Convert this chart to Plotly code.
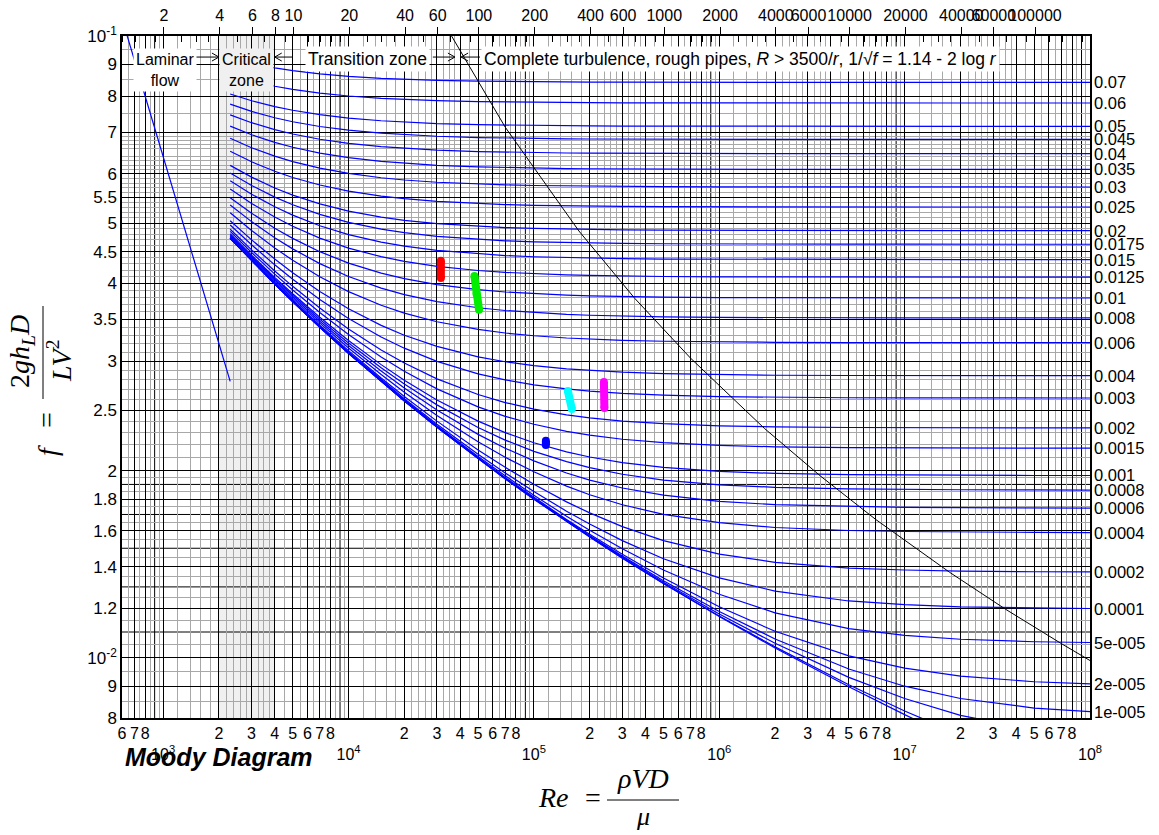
import math
import plotly.graph_objects as go

# ---------------- data ----------------
# Reynolds numbers at which each curve was read
re_grid = [2300, 3000, 4000, 5000, 7000, 1e4, 1.5e4, 2e4, 3e4, 5e4, 7e4, 1e5, 1.5e5, 2e5,
           3e5, 5e5, 1e6, 2e6, 5e6, 1e7, 2e7, 5e7, 1e8]

# friction factor x 1000 along each relative-roughness curve
f_r0p07 = [92.10, 90.34, 88.86, 87.96, 86.91, 86.11, 85.48, 85.16, 84.84, 84.59, 84.48, 84.39, 84.33, 84.30, 84.27, 84.24, 84.22, 84.21, 84.20, 84.20, 84.20, 84.20, 84.20]
f_r0p06 = [86.45, 84.59, 83.02, 82.06, 80.93, 80.08, 79.40, 79.06, 78.72, 78.44, 78.32, 78.23, 78.16, 78.13, 78.09, 78.06, 78.04, 78.03, 78.02, 78.02, 78.02, 78.02, 78.02]
f_r0p05 = [80.66, 78.67, 76.99, 75.95, 74.73, 73.80, 73.06, 72.69, 72.31, 72.01, 71.88, 71.78, 71.70, 71.67, 71.63, 71.60, 71.57, 71.56, 71.56, 71.55, 71.55, 71.55, 71.55]
f_r0p045 = [77.70, 75.64, 73.88, 72.80, 71.52, 70.55, 69.77, 69.38, 68.98, 68.66, 68.52, 68.42, 68.33, 68.29, 68.25, 68.22, 68.20, 68.18, 68.18, 68.17, 68.17, 68.17, 68.17]
f_r0p04 = [74.68, 72.54, 70.70, 69.57, 68.23, 67.19, 66.37, 65.95, 65.53, 65.19, 65.04, 64.93, 64.84, 64.80, 64.76, 64.72, 64.70, 64.68, 64.68, 64.67, 64.67, 64.67, 64.67]
f_r0p035 = [71.61, 69.37, 67.44, 66.24, 64.82, 63.72, 62.84, 62.40, 61.94, 61.58, 61.42, 61.30, 61.21, 61.16, 61.11, 61.07, 61.05, 61.03, 61.02, 61.02, 61.02, 61.02, 61.02]
f_r0p03 = [68.47, 66.12, 64.08, 62.80, 61.29, 60.11, 59.16, 58.67, 58.18, 57.78, 57.61, 57.48, 57.38, 57.33, 57.28, 57.24, 57.20, 57.19, 57.18, 57.18, 57.18, 57.17, 57.17]
f_r0p025 = [65.25, 62.76, 60.59, 59.22, 57.59, 56.31, 55.27, 54.74, 54.20, 53.75, 53.56, 53.42, 53.31, 53.25, 53.19, 53.15, 53.11, 53.10, 53.09, 53.08, 53.08, 53.08, 53.08]
f_r0p02 = [61.93, 59.29, 56.96, 55.48, 53.69, 52.27, 51.12, 50.52, 49.91, 49.41, 49.19, 49.03, 48.90, 48.83, 48.77, 48.72, 48.68, 48.66, 48.65, 48.64, 48.64, 48.64, 48.64]
f_r0p0175 = [60.23, 57.50, 55.07, 53.53, 51.65, 50.15, 48.92, 48.28, 47.62, 47.08, 46.84, 46.66, 46.52, 46.45, 46.38, 46.33, 46.28, 46.26, 46.25, 46.25, 46.24, 46.24, 46.24]
f_r0p015 = [58.50, 55.67, 53.14, 51.51, 49.52, 47.93, 46.60, 45.91, 45.20, 44.61, 44.35, 44.15, 44.00, 43.92, 43.85, 43.78, 43.74, 43.71, 43.70, 43.69, 43.69, 43.69, 43.69]
f_r0p0125 = [56.74, 53.79, 51.14, 49.43, 47.31, 45.59, 44.16, 43.40, 42.61, 41.96, 41.67, 41.46, 41.28, 41.20, 41.11, 41.04, 40.99, 40.96, 40.95, 40.94, 40.94, 40.94, 40.94]
f_r0p01 = [54.94, 51.87, 49.08, 47.26, 44.99, 43.13, 41.55, 40.71, 39.82, 39.08, 38.75, 38.50, 38.31, 38.21, 38.11, 38.03, 37.96, 37.93, 37.92, 37.91, 37.91, 37.90, 37.90]
f_r0p008 = [53.47, 50.29, 47.38, 45.46, 43.04, 41.03, 39.31, 38.37, 37.39, 36.55, 36.18, 35.89, 35.66, 35.55, 35.43, 35.34, 35.27, 35.23, 35.21, 35.20, 35.20, 35.20, 35.20]
f_r0p006 = [51.97, 48.67, 45.62, 43.58, 41.00, 38.80, 36.89, 35.84, 34.71, 33.73, 33.29, 32.95, 32.68, 32.54, 32.40, 32.29, 32.20, 32.16, 32.13, 32.12, 32.12, 32.12, 32.12]
f_r0p004 = [50.44, 47.00, 43.79, 41.62, 38.83, 36.41, 34.24, 33.02, 31.68, 30.48, 29.93, 29.50, 29.15, 28.97, 28.79, 28.64, 28.53, 28.47, 28.44, 28.43, 28.42, 28.42, 28.42]
f_r0p003 = [49.67, 46.15, 42.85, 40.61, 37.69, 35.13, 32.80, 31.47, 29.97, 28.62, 27.98, 27.47, 27.06, 26.84, 26.62, 26.44, 26.30, 26.23, 26.19, 26.18, 26.17, 26.17, 26.17]
f_r0p002 = [48.88, 45.29, 41.89, 39.57, 36.51, 33.79, 31.27, 29.79, 28.09, 26.51, 25.73, 25.11, 24.58, 24.31, 24.02, 23.79, 23.61, 23.51, 23.46, 23.44, 23.43, 23.42, 23.42]
f_r0p0015 = [48.49, 44.85, 41.40, 39.03, 35.91, 33.10, 30.46, 28.89, 27.07, 25.32, 24.45, 23.74, 23.13, 22.80, 22.46, 22.18, 21.96, 21.84, 21.77, 21.75, 21.74, 21.73, 21.73]
f_r0p001 = [48.09, 44.41, 40.91, 38.50, 35.29, 32.38, 29.61, 27.95, 25.97, 24.02, 23.02, 22.17, 21.44, 21.03, 20.60, 20.24, 19.94, 19.79, 19.70, 19.67, 19.65, 19.64, 19.64]
f_r0p0008 = [47.93, 44.23, 40.71, 38.28, 35.04, 32.09, 29.26, 27.55, 25.51, 23.46, 22.39, 21.48, 20.67, 20.22, 19.73, 19.31, 18.97, 18.80, 18.69, 18.65, 18.63, 18.62, 18.61]
f_r0p0006 = [47.77, 44.06, 40.51, 38.06, 34.78, 31.79, 28.91, 27.15, 25.03, 22.87, 21.73, 20.73, 19.82, 19.31, 18.75, 18.26, 17.85, 17.63, 17.50, 17.45, 17.43, 17.41, 17.41]
f_r0p0004 = [47.61, 43.88, 40.31, 37.84, 34.53, 31.49, 28.55, 26.74, 24.53, 22.25, 21.01, 19.91, 18.88, 18.29, 17.62, 17.01, 16.49, 16.20, 16.02, 15.96, 15.92, 15.91, 15.90]
f_r0p0002 = [47.44, 43.70, 40.11, 37.62, 34.27, 31.19, 28.18, 26.32, 24.02, 21.59, 20.24, 19.01, 17.81, 17.10, 16.25, 15.43, 14.68, 14.24, 13.94, 13.84, 13.78, 13.75, 13.74]
f_r0p0001 = [47.36, 43.61, 40.01, 37.50, 34.14, 31.04, 27.99, 26.10, 23.75, 21.25, 19.83, 18.51, 17.21, 16.41, 15.43, 14.43, 13.44, 12.80, 12.34, 12.17, 12.07, 12.02, 12.00]
f_r5em5 = [47.32, 43.56, 39.96, 37.45, 34.08, 30.96, 27.90, 25.99, 23.62, 21.07, 19.62, 18.26, 16.89, 16.04, 14.97, 13.84, 12.65, 11.81, 11.14, 10.86, 10.71, 10.61, 10.58]
f_r2em5 = [47.30, 43.54, 39.93, 37.42, 34.04, 30.91, 27.84, 25.93, 23.54, 20.96, 19.49, 18.10, 16.69, 15.80, 14.67, 13.44, 12.08, 11.03, 10.07, 9.62, 9.34, 9.15, 9.08]
f_r1em5 = [47.29, 43.53, 39.92, 37.40, 34.02, 30.90, 27.82, 25.91, 23.51, 20.93, 19.45, 18.04, 16.62, 15.72, 14.57, 13.30, 11.87, 10.72, 9.59, 9.00, 8.60, 8.30, 8.19]
f_r5em6 = [47.29, 43.52, 39.91, 37.40, 34.02, 30.89, 27.82, 25.89, 23.50, 20.91, 19.43, 18.02, 16.59, 15.68, 14.52, 13.23, 11.76, 10.55, 9.30, 8.60, 8.08, 7.65, 7.47]
f_r1em6 = [47.28, 43.52, 39.91, 37.39, 34.01, 30.88, 27.81, 25.89, 23.49, 20.90, 19.41, 18.00, 16.56, 15.65, 14.47, 13.17, 11.67, 10.41, 9.05, 8.21, 7.52, 6.82, 6.43]
f_smooth = [47.28, 43.52, 39.91, 37.39, 34.01, 30.88, 27.81, 25.88, 23.48, 20.89, 19.40, 17.99, 16.56, 15.64, 14.46, 13.16, 11.65, 10.37, 8.98, 8.10, 7.34, 6.49, 5.94]

curves = [f_r0p07, f_r0p06, f_r0p05, f_r0p045, f_r0p04, f_r0p035, f_r0p03, f_r0p025, f_r0p02,
          f_r0p0175, f_r0p015, f_r0p0125, f_r0p01, f_r0p008, f_r0p006, f_r0p004, f_r0p003,
          f_r0p002, f_r0p0015, f_r0p001, f_r0p0008, f_r0p0006, f_r0p0004, f_r0p0002,
          f_r0p0001, f_r5em5, f_r2em5, f_r1em5, f_r5em6, f_r1em6, f_smooth]
# right-hand labels (relative roughness), one per labelled curve
rough_labels = ["0.07", "0.06", "0.05", "0.045", "0.04", "0.035", "0.03", "0.025", "0.02",
                "0.0175", "0.015", "0.0125", "0.01", "0.008", "0.006", "0.004", "0.003",
                "0.002", "0.0015", "0.001", "0.0008", "0.0006", "0.0004", "0.0002",
                "0.0001", "5e-005", "2e-005", "1e-005"]

# laminar line
re_lam = [600, 2300]
f_lam = [0.1067, 0.02783]

# complete-turbulence boundary (black line)
re_bnd = [35000, 70000, 175000, 350000, 700000, 1.75e6, 3.5e6, 7e6, 1.75e7, 3.5e7, 7e7, 1e8]
f_bnd = [0.1014, 0.07137, 0.04857, 0.03785, 0.03033, 0.02339, 0.01962, 0.01668, 0.01372,
         0.01197, 0.01054, 0.009897]

# hand-drawn coloured marks
red_re = [31500, 31500];            red_f = [0.0435, 0.0408]
green_re = [47800, 49000, 50600];   green_f = [0.0411, 0.0385, 0.0363]
cyan_re = [152600, 160300];         cyan_f = [0.02685, 0.02512]
mag_re = [238700, 240000];          mag_f = [0.02777, 0.02521]
blue_re = [116100, 116100];         blue_f = [0.02233, 0.02198]

# axis ticks
y_ticks = [0.008, 0.009, 0.010, 0.012, 0.014, 0.016, 0.018, 0.02, 0.025, 0.03, 0.035, 0.04,
           0.045, 0.05, 0.055, 0.06, 0.07, 0.08, 0.09, 0.1]
y_labels = ["8", "9", "10<sup>-2</sup>", "1.2", "1.4", "1.6", "1.8", "2", "2.5", "3", "3.5",
            "4", "4.5", "5", "5.5", "6", "7", "8", "9", "10<sup>-1</sup>"]
y_extra_major = [0.011, 0.013, 0.015, 0.017, 0.019]
vd_ticks = [2, 4, 6, 8, 10, 20, 40, 60, 100, 200, 400, 600, 1000, 2000, 4000, 6000,
            10000, 20000, 40000, 60000, 100000]
VD_TO_RE = 505.0

# zone-boundary arrows: (head Re, tail Re)
arrows = [(2000, 1450), (4000, 5000), (37500, 28500), (40500, 51200)]

# ---------------- figure ----------------
RE_MIN, RE_MAX = 600, 1e8
F_MIN, F_MAX = 0.008, 0.1
FONT = "Arial, Liberation Sans, sans-serif"
SERIF = "Liberation Serif, Times New Roman, serif"
BLUE = "rgb(0,0,255)"
GRAY = "#a8a8a8"
L = math.log10
PL, PR, PT, PB = 122, 1090, 36, 718          # plot-area edges in page pixels
X_DEC = (PR - PL) / (L(RE_MAX) - L(RE_MIN))  # pixels per decade (x)
Y_DEC = (PB - PT) / (L(F_MAX) - L(F_MIN))    # pixels per decade (y)

fig = go.Figure()

# critical zone shading (first, so it lies under everything)
fig.add_shape(type="rect", xref="x", yref="paper", x0=2000, x1=4000, y0=0, y1=1,
              fillcolor="#f0f0f0", line=dict(width=0), layer="below")

for fv in curves:
    fig.add_trace(go.Scatter(x=re_grid, y=[v / 1000 for v in fv], mode="lines",
                             line=dict(color=BLUE, width=1.2), hoverinfo="skip",
                             showlegend=False))

fig.add_trace(go.Scatter(x=re_lam, y=f_lam, mode="lines", line=dict(color=BLUE, width=1.2),
                         showlegend=False, hoverinfo="skip"))
fig.add_trace(go.Scatter(x=re_bnd, y=f_bnd, mode="lines", line=dict(color="black", width=1),
                         showlegend=False, hoverinfo="skip"))

for xs, ys, col in [(red_re, red_f, "#ff0000"), (green_re, green_f, "#00ee00"),
                    (cyan_re, cyan_f, "#00ffff"), (mag_re, mag_f, "#ff00ff"),
                    (blue_re, blue_f, "#0000ff")]:
    fig.add_trace(go.Scatter(x=xs, y=ys, mode="lines+markers",
                             line=dict(color=col, width=8),
                             marker=dict(color=col, size=8), showlegend=False,
                             hoverinfo="skip"))

# dummy trace to bring the top (VD) axis to life
fig.add_trace(go.Scatter(x=vd_ticks, y=[None] * len(vd_ticks), xaxis="x2", mode="lines",
                         showlegend=False, hoverinfo="skip"))

# x ticks
x_ticks, x_text, x_nine, x_minor = [], [], [], []
for k in range(2, 9):
    for m in range(1, 10):
        v = m * 10 ** k
        if RE_MIN <= v <= RE_MAX:
            if m == 9:
                x_nine.append(v)
                continue
            x_ticks.append(v)
            x_text.append(" <br>10<sup>%d</sup>" % k if m == 1 else str(m))
    for m in [1.2, 1.4, 1.6, 1.8, 2.2, 2.4, 2.6, 2.8, 3.25, 3.5, 3.75, 4.5, 5.5, 6.5, 7.5,
              8.5, 9.5]:
        v = m * 10 ** k
        if RE_MIN < v < RE_MAX:
            x_minor.append(v)

y_minor = []
for i in range(17, 40, 2):
    y_minor.append(i * 0.0005)
for i in range(21, 70):
    if i % 5 != 0:
        y_minor.append(i * 0.001)
y_minor += [0.075, 0.085, 0.095]

vd_minor = []
for k in range(0, 6):
    for m in [1.2, 1.4, 1.6, 1.8, 2.5, 3, 3.5, 5, 7, 9]:
        v = m * 10 ** k
        if RE_MIN / VD_TO_RE < v < RE_MAX / VD_TO_RE:
            vd_minor.append(v)

# unlabeled black grid lines (x = 9 x 10^k, y = odd thousandths)
for v in x_nine:
    fig.add_shape(type="line", xref="x", yref="paper", x0=v, x1=v, y0=0, y1=1,
                  line=dict(color="black", width=1), layer="between")
for v in y_extra_major:
    fig.add_shape(type="line", xref="paper", yref="y", x0=0, x1=1, y0=v, y1=v,
                  line=dict(color="black", width=1), layer="between")

fig.update_layout(
    width=1159, height=835,
    margin=dict(l=PL, r=1159 - PR, t=PT, b=835 - PB, autoexpand=False),
    paper_bgcolor="white", plot_bgcolor="white",
    font=dict(family=FONT, color="black", size=15),
    xaxis=dict(type="log", range=[L(RE_MIN), L(RE_MAX)],
               tickmode="array", tickvals=x_ticks, ticktext=x_text, tickangle=0,
               showgrid=True, gridcolor="black", gridwidth=1,
               showline=True, linecolor="black", linewidth=1.5, mirror=True,
               ticks="", tickfont=dict(size=16), automargin=False, zeroline=False,
               minor=dict(tickmode="array", tickvals=x_minor, showgrid=True,
                          gridcolor=GRAY, gridwidth=1, ticks="")),
    xaxis2=dict(type="log", overlaying="x", side="top",
                range=[L(RE_MIN / VD_TO_RE), L(RE_MAX / VD_TO_RE)],
                tickmode="array", tickvals=vd_ticks, ticktext=[str(v) for v in vd_ticks],
                tickangle=0, showgrid=False, showline=False, ticks="outside", ticklen=8,
                tickcolor="black", tickfont=dict(size=16), automargin=False,
                minor=dict(tickmode="array", tickvals=vd_minor, ticks="inside",
                           ticklen=6, tickcolor="black", showgrid=False)),
    yaxis=dict(type="log", range=[L(F_MIN), L(F_MAX)],
               tickmode="array", tickvals=y_ticks, ticktext=y_labels,
               showgrid=True, gridcolor="black", gridwidth=1,
               showline=True, linecolor="black", linewidth=1.5, mirror=True,
               ticks="", tickfont=dict(size=17), automargin=False, zeroline=False,
               minor=dict(tickmode="array", tickvals=y_minor, showgrid=True,
                          gridcolor=GRAY, gridwidth=1, ticks="")),
)

ann = []
ann.append(dict(x=L(1020), y=L(0.0882), text="Laminar<br>flow", bgcolor="white",
                font=dict(size=16, family=FONT)))
ann.append(dict(x=L(2828), y=L(0.0882), text="Critical<br>zone", bgcolor="#f0f0f0",
                font=dict(size=16, family=FONT)))
ann.append(dict(x=L(12650), y=L(0.0918), text="Transition zone", bgcolor="white",
                font=dict(size=17.5, family=FONT)))
ann.append(dict(x=L(52000), y=L(0.0918), xanchor="left",
                text="Complete turbulence, rough pipes, <i>R</i> > 3500/<i>r</i>, "
                     "1/\u221a<i>f</i> = 1.14 - 2 log <i>r</i>",
                bgcolor="white", font=dict(size=17.5, family=FONT)))
for a in ann:
    a.update(xref="x", yref="y", showarrow=False, borderpad=2, yanchor="middle")
    a.setdefault("xanchor", "center")
    fig.add_annotation(**a)

# arrows pointing at zone boundaries (drawn as line shapes)
F_ARROW = 0.0925
for head, tail in arrows:
    direction = 1 if head > tail else -1
    back = head * 10 ** (-direction * 7 / X_DEC)
    up = F_ARROW * 10 ** (4 / Y_DEC)
    dn = F_ARROW * 10 ** (-4 / Y_DEC)
    for x0, y0, x1, y1 in [(tail, F_ARROW, head, F_ARROW), (back, up, head, F_ARROW),
                           (back, dn, head, F_ARROW)]:
        fig.add_shape(type="line", xref="x", yref="y", x0=x0, x1=x1, y0=y0, y1=y1,
                      line=dict(color="black", width=1), layer="above")

# right-hand roughness labels at curve ends
for lab, fv in zip(rough_labels, curves):
    fig.add_annotation(x=L(RE_MAX), y=L(fv[-1] / 1000), xref="x", yref="y", text=lab,
                       showarrow=False, xanchor="left", yanchor="middle", xshift=2,
                       font=dict(size=16.5, family=FONT))


# ---- titles (positions in pixels of the 1159x835 page, converted to paper units) ----
def px(xp):
    return (xp - PL) / (PR - PL)


def py(yp):
    return (PB - yp) / (PB - PT)


def title_text(x, y, text, size=28, angle=0, family=SERIF):
    fig.add_annotation(x=px(x), y=py(y), xref="paper", yref="paper", showarrow=False,
                       xanchor="center", yanchor="middle", textangle=angle, text=text,
                       font=dict(size=size, family=family))


fig.add_annotation(x=px(123), y=py(757), xref="paper", yref="paper", xanchor="left",
                   yanchor="middle", showarrow=False, text="<b><i>Moody Diagram</i></b>",
                   font=dict(size=25, family=FONT))
# x title: Re = rho V D / mu
title_text(553, 798, "<i>Re</i>")
title_text(593, 798, "=")
title_text(643, 778, "<i>\u03c1VD</i>")
title_text(643, 816, "<i>\u03bc</i>", size=26)
fig.add_shape(type="line", xref="paper", yref="paper", x0=px(607), x1=px(679),
              y0=py(800), y1=py(800), line=dict(color="black", width=1))
# y title: f = 2 g h_L D / (L V^2)
title_text(47, 451, "<i>f</i>", angle=-90)
title_text(47, 420, "=", angle=-90)
title_text(21, 352, "2<i>gh</i><sub><i>L</i></sub><i>D</i>", angle=-90)
title_text(59, 361, "<i>LV</i><sup>2</sup>", angle=-90)
fig.add_shape(type="line", xref="paper", yref="paper", x0=px(43), x1=px(43),
              y0=py(306), y1=py(399), line=dict(color="black", width=1))

fig.write_html("out.html")
